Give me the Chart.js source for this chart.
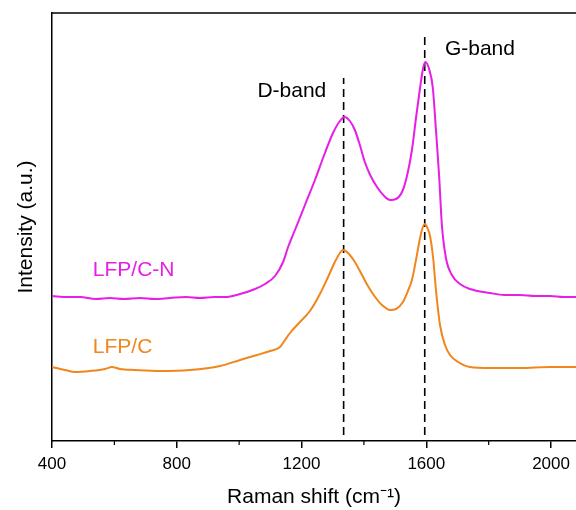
<!DOCTYPE html>
<html>
<head>
<meta charset="utf-8">
<script src="https://cdn.jsdelivr.net/npm/chart.js@4"></script>
<style>
  html,body{margin:0;padding:0;background:#fff;}
  #wrap{width:576px;height:510px;position:relative;}
</style>
</head>
<body>
<div id="wrap"><canvas id="c"></canvas></div>
<script>
// ---- data (Raman shift in cm^-1, intensity in arbitrary units) ----
const shiftCN = [400,450,490,540,586,630,682,730,778,830,874,920,955,1003,1051,1083,1115,1141,1157,1179,1211,1243,1275,1301,1323,1338,1355,1371,1387,1403,1420,1442,1468,1484,1503,1525,1541,1554,1567,1580,1590,1597,1610,1621,1631,1641,1650,1663,1682,1708,1740,1804,1850,1900,1950,1997,2040,2080];
const intCN   = [145,144,144,142,143,142,143,142,143,144,143,144,144,147,152,157,165,179,194,211,236,261,288,308,320,324,320,311,296,279,266,254,244,241,242,251,269,291,323,353,373,379,371,353,311,266,216,183,166,157,152,148,146,146,145,145,144,144];

const shiftC = [400,442,474,522,570,592,618,666,746,842,939,1003,1057,1099,1131,1147,1163,1195,1227,1259,1285,1307,1323,1333,1349,1371,1394,1413,1436,1458,1484,1503,1525,1541,1554,1567,1580,1588,1596,1605,1612,1622,1631,1644,1660,1676,1702,1740,1804,1900,1997,2080];
const intC   = [74,71,69,70,72,74,72,71,70,71,75,81,86,90,94,101,108,119,130,147,164,179,188,191,188,179,166,155,144,136,131,132,139,150,161,181,203,213,217,212,205,183,151,116,96,86,79,74,73,73,74,74];

const bandPos   = [1335, 1595];          // D-band, G-band
const bandTop   = [363, 404];            // top of the dashed markers
const bandBase  = 6;
const xTicks    = [400, 800, 1200, 1600, 2000];
const xMinor    = [600, 1000, 1400, 1800];
const xRange    = [400, 2080];
const yRange    = [0, 428];

const seriesNames = ['LFP/C-N', 'LFP/C'];
const colCN = '#e61ee6';
const colC  = '#f0861c';

// text annotations, placed in data coordinates
const notes = [
  {text:'D-band',  x:1169, y:350, color:'#000', align:'center', size:21},
  {text:'G-band',  x:1772, y:392, color:'#000', align:'center', size:21},
  {text:'LFP/C-N', x:531,  y:171, color:colCN,  align:'left',   size:21},
  {text:'LFP/C',   x:531,  y:94,  color:colC,   align:'left',   size:21}
];

const toXY = (xs, ys) => xs.map((x, i) => ({x, y: ys[i]}));

const notesPlugin = {
  id: 'notes',
  afterDatasetsDraw(chart) {
    const {ctx, scales:{x, y}} = chart;
    ctx.save();
    notes.forEach(n => {
      ctx.font = n.size + 'px "Liberation Sans", Arial, sans-serif';
      ctx.fillStyle = n.color;
      ctx.textAlign = n.align;
      ctx.textBaseline = 'middle';
      ctx.fillText(n.text, x.getPixelForValue(n.x), y.getPixelForValue(n.y));
    });
    ctx.restore();
  }
};

const framePlugin = {
  id: 'frame',
  afterDraw(chart) {
    const {ctx, chartArea:a, scales:{x}} = chart;
    ctx.save();
    ctx.strokeStyle = '#000';
    ctx.lineWidth = 1.5;
    ctx.beginPath();
    ctx.moveTo(a.left, a.top);
    ctx.lineTo(chart.width + 2, a.top);
    ctx.stroke();
    // minor ticks
    ctx.lineWidth = 1.2;
    xMinor.forEach(v => {
      const px = x.getPixelForValue(v);
      ctx.beginPath();
      ctx.moveTo(px, a.bottom);
      ctx.lineTo(px, a.bottom + 4);
      ctx.stroke();
    });
    ctx.restore();
  }
};

const dashSets = bandPos.map((p, i) => ({
  data: [{x:p, y:bandBase}, {x:p, y:bandTop[i]}],
  borderColor: '#000',
  borderWidth: 1.6,
  borderDash: [8, 5],
  pointRadius: 0,
  fill: false
}));

new Chart(document.getElementById('c'), {
  type: 'line',
  data: {
    datasets: [
      {label: seriesNames[0], data: toXY(shiftCN, intCN), borderColor: colCN, borderWidth: 2, pointRadius: 0, cubicInterpolationMode: 'monotone', fill:false},
      {label: seriesNames[1], data: toXY(shiftC, intC), borderColor: colC, borderWidth: 2, pointRadius: 0, cubicInterpolationMode: 'monotone', fill:false},
      ...dashSets
    ]
  },
  options: {
    responsive: true,
    maintainAspectRatio: false,
    animation: false,
    layout: {padding: {top: 13, right: 0, left: 0, bottom: 0}},
    plugins: {legend: {display: false}, tooltip: {enabled: false}},
    scales: {
      x: {
        type: 'linear',
        min: xRange[0], max: xRange[1],
        afterBuildTicks: s => { s.ticks = xTicks.map(v => ({value: v})); },
        afterFit: s => { s.height = 69; },
        grid: {display: true, drawOnChartArea: false, drawTicks: true, tickLength: 7, color: '#000', lineWidth: 1.5},
        border: {display: true, color: '#000', width: 1.5},
        ticks: {color: '#000', padding: 6, maxRotation: 0, callback: v => String(v), font: {family: '"Liberation Sans", Arial, sans-serif', size: 17}},
        title: {display: true, text: 'Raman shift (cm\u207B\u00B9)', color: '#000', padding: {top: 0, bottom: 0}, font: {family: '"Liberation Sans", Arial, sans-serif', size: 21}}
      },
      y: {
        type: 'linear',
        min: yRange[0], max: yRange[1],
        afterFit: s => { s.width = 52; },
        grid: {display: false, drawTicks: false},
        border: {display: true, color: '#000', width: 1.5},
        ticks: {display: false},
        title: {display: true, text: 'Intensity (a.u.)', color: '#000', padding: {top: 14, bottom: 0}, font: {family: '"Liberation Sans", Arial, sans-serif', size: 21}}
      }
    }
  },
  plugins: [notesPlugin, framePlugin]
});
</script>
</body>
</html>
